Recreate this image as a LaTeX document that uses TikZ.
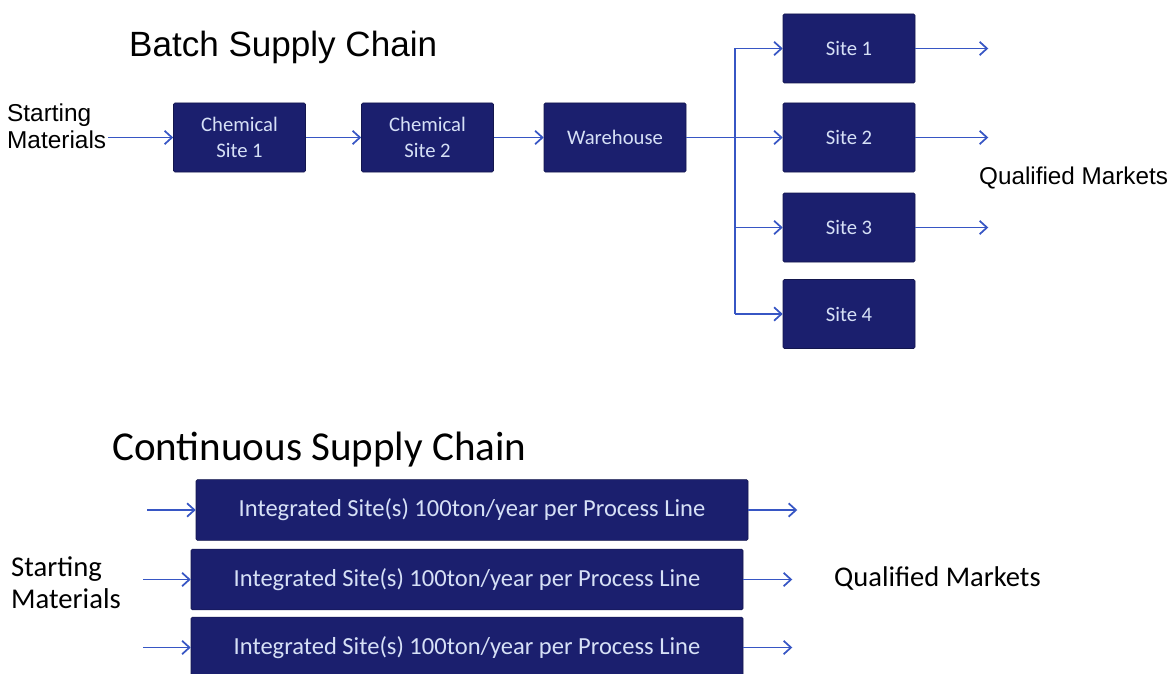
\documentclass[tikz,border=0pt]{standalone}
\usepackage{fontspec}
\setmainfont{Carlito}
\newfontfamily\arialfont{Liberation Sans}
\usetikzlibrary{positioning,arrows.meta}

\definecolor{boxblue}{RGB}{27,31,110}
\definecolor{boxtext}{RGB}{214,224,246}
\definecolor{flowblue}{RGB}{55,86,196}

\tikzstyle{every node}+=[inner sep=0.5mm]
\tikzstyle{site}=[rectangle, draw=boxblue!70!black, fill=boxblue, text=boxtext, rounded corners=1pt, align=center, minimum width=99pt, minimum height=51.75pt, font=\fontsize{15.5}{19.5}\selectfont]
\tikzstyle{line}=[rectangle, draw=boxblue!70!black, fill=boxblue, text=boxtext, rounded corners=1pt, minimum width=414pt, minimum height=45.5pt, font=\fontsize{18.4}{22}\selectfont]
\tikzstyle{flowline}=[draw=flowblue, line width=1.3pt]
\tikzstyle{flow}=[flowline, -{Straight Barb[length=5.5pt,width=10pt]}]

\begin{document}
\begin{tikzpicture}[x=0.75pt,y=-0.75pt]
\useasboundingbox (0,0) rectangle (1172,674);

% batch chain
\node[anchor=west, font=\arialfont\fontsize{26.3}{30}\selectfont] (batch) at (127,47) {Batch Supply Chain};
\node[anchor=west, align=left, font=\arialfont\fontsize{18.3}{20}\selectfont] (start) at (5,126) {Starting\\Materials};

\node[site] (chem1) at (239.5,137.5) {Chemical\\Site 1};
\node[site] (chem2) at (427.5,137.5) {Chemical\\Site 2};
\node[site, minimum width=106.5pt] (ware) at (615,137.5) {Warehouse};

\node[site] (site1) at (849,48.5) {Site 1};
\node[site] (site2) at (849,137.5) {Site 2};
\node[site] (site3) at (849,227.5) {Site 3};
\node[site] (site4) at (849,314) {Site 4};

\node[anchor=west, font=\arialfont\fontsize{18.2}{20}\selectfont] (qm1) at (977,178) {Qualified Markets};

\coordinate (split) at (735,137.5);

\draw[flow] (start.east |- chem1) -- (chem1);
\draw[flow] (chem1) -- (chem2);
\draw[flow] (chem2) -- (ware);
\draw[flowline] (ware) -- (split);
\draw[flowline] (split |- site1) -- (split |- site4);
\foreach \i in {1,2,3,4}
  \draw[flow] (split |- site\i) -- (site\i);
\foreach \i in {1,2,3} {
  \path (site\i.east) ++(73,0) coordinate (out\i);
  \draw[flow] (site\i) -- (out\i);
}

% continuous chain
\node[anchor=west, font=\fontsize{30.8}{34}\selectfont] (cont) at (110,450) {Continuous Supply Chain};

\node[line] (line1) at (472,510) {Integrated Site(s) 100ton/year per Process Line};
\node[line] (line2) at (467,579.5) {Integrated Site(s) 100ton/year per Process Line};
\node[line] (line3) at (467,647.5) {Integrated Site(s) 100ton/year per Process Line};

\node[anchor=west, align=left, font=\fontsize{21.5}{24}\selectfont] (start2) at (9,583) {Starting\\Materials};
\node[anchor=west, font=\fontsize{21.4}{24}\selectfont] (qm2) at (832,578) {Qualified Markets};

\coordinate (in1) at (147,510);
\coordinate (in2) at (143,579.5);
\coordinate (in3) at (143,647.5);

\foreach \i in {1,2,3} {
  \draw[flow] (in\i) -- (line\i);
  \path (line\i.east) ++(49,0) coordinate (end\i);
  \draw[flow] (line\i) -- (end\i);
}
\end{tikzpicture}
\end{document}
